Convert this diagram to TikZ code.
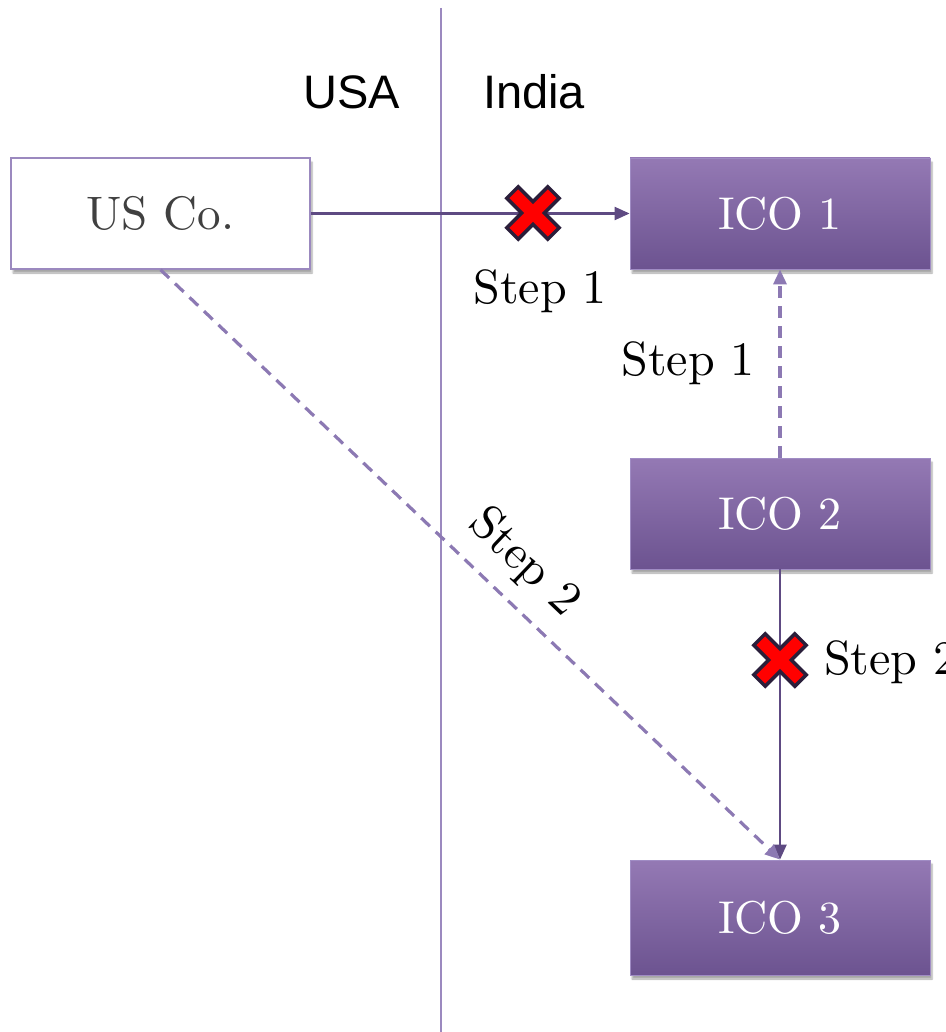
\documentclass[tikz,border=0pt]{standalone}
\usepackage{fontspec}
\setmainfont{lmroman10-regular}[Extension=.otf]
\newfontfamily\labsans{Liberation Sans}
\usetikzlibrary{arrows.meta,shadows.blur}
\definecolor{borderline}{HTML}{9B89BF}
\definecolor{flowdark}{HTML}{5E4A82}
\definecolor{flowlight}{HTML}{8C79B3}
\definecolor{boxtop}{HTML}{9479B4}
\definecolor{boxbottom}{HTML}{6C5390}
\definecolor{boxedge}{HTML}{A08CC4}
\definecolor{crossedge}{HTML}{2A1E3A}
\definecolor{usgray}{HTML}{404040}
\begin{document}
\begin{tikzpicture}[x=1pt,y=-1pt,
  softshadow/.style={blur shadow={shadow xshift=2pt,shadow yshift=-4pt,shadow blur steps=6,shadow opacity=35}},
  whitebox/.style={rectangle,draw=borderline,line width=1.5pt,fill=white,softshadow,
    minimum width=299pt,minimum height=111pt,inner sep=0pt,
    font=\fontsize{47}{52}\selectfont,text=usgray},
  icobox/.style={rectangle,draw=boxedge,line width=0.8pt,top color=boxtop,bottom color=boxbottom,softshadow,
    minimum width=300pt,minimum height=111pt,inner sep=0pt,
    font=\fontsize{46}{50}\selectfont,text=white},
  steplbl/.style={inner sep=0pt,font=\fontsize{48}{52}\selectfont,text=black},
  countrylbl/.style={inner sep=0pt,font=\labsans\fontsize{47}{50}\selectfont,text=black},
  solidflow/.style={draw=flowdark,line width=2.2pt,-{Triangle[length=15pt,width=13pt]}},
  dashflow/.style={draw=flowlight,line width=3.2pt,dash pattern=on 12pt off 8pt,-{Triangle[length=15pt,width=13pt]}},
  crossmark/.pic={
    \path[fill=red,draw=crossedge,line width=3.5pt,line join=miter,rotate=45]
      (-8,-29)--(8,-29)--(8,-8)--(29,-8)--(29,8)--(8,8)--(8,29)--(-8,29)--(-8,8)--(-29,8)--(-29,-8)--(-8,-8)--cycle;
  }]
\useasboundingbox (0,0) rectangle (945,1032);

% border between the two countries
\coordinate (bordertop) at (441,8);
\coordinate (borderbot) at (441,1032);
\draw[borderline,line width=2pt] (bordertop) -- (borderbot);
\node[countrylbl] (usa) at (352,92) {USA};
\node[countrylbl] (india) at (534,92) {India};

% companies
\node[whitebox] (usco) at (160.5,213.5) {US Co.};
\node[icobox] (ico1) at (780,213.5) {ICO 1};
\node[icobox] (ico2) at (780,513.5) {ICO 2};
\node[icobox,minimum height=115pt] (ico3) at (780,917.5) {ICO 3};

% flows
\draw[solidflow] (usco.east) -- (ico1.west);
\draw[dashflow] (ico2.north) -- (ico1.south);
\draw[solidflow] (ico2.south) -- (ico3.north);
\draw[dashflow] (usco.south) -- (ico3.north);

% blocked routes
\pic at (533,213) {crossmark};
\pic at (780,660) {crossmark};

% step labels
\node[steplbl] (s1a) at (540,291) {Step 1};
\node[steplbl] (s1b) at (688,363) {Step 1};
\node[steplbl,anchor=west] (s2a) at (824,662) {Step 2};
\node[steplbl,rotate=-43.6] (s2b) at (524,563) {Step 2};
\end{tikzpicture}
\end{document}
